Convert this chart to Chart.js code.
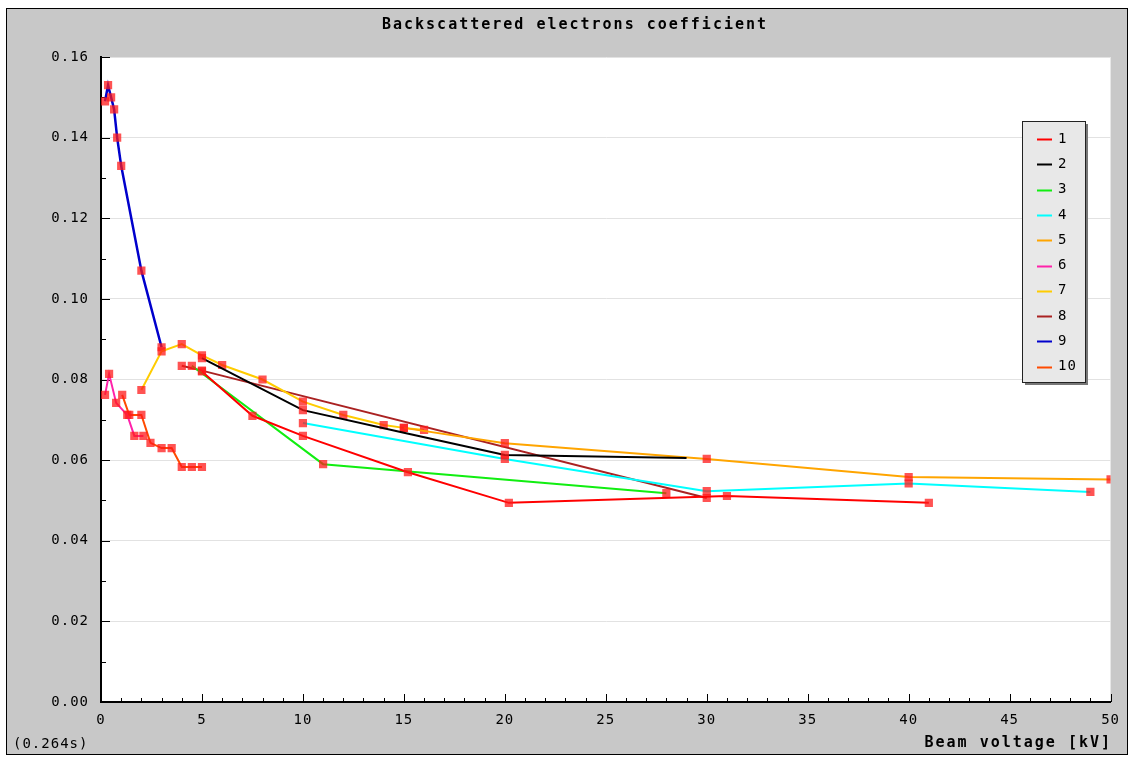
<!DOCTYPE html>
<html>
<head>
<meta charset="utf-8">
<script src="https://cdn.jsdelivr.net/npm/chart.js@4.4.0/dist/chart.umd.min.js"></script>
<style>
  body { margin: 0; background: #fff; }
  canvas { display: block; }
</style>
</head>
<body>
<canvas id="bse" width="1130" height="757"></canvas>
<script>
// ---- data (beam voltage in kV, coefficient) ----
const seriesNames = ['1', '2', '3', '4', '5', '6', '7', '8', '9', '10'];
const seriesColors = ['#ff0000', '#000000', '#11ee11', '#00ffff', '#ffa500',
                      '#ff22aa', '#ffcc00', '#aa2222', '#0000cc', '#ff4a00'];

const kv1 = [5, 7.5, 10, 15.2, 20.2, 31, 41];
const eta1 = [0.082, 0.071, 0.066, 0.057, 0.0494, 0.0511, 0.0494];
const kv2 = [5, 10, 15, 20, 29];
const eta2 = [0.0853, 0.0724, 0.0668, 0.0613, 0.0605];
const kv3 = [4.5, 11, 28];
const eta3 = [0.0834, 0.059, 0.0518];
const kv4 = [10, 20, 30, 40, 49];
const eta4 = [0.0692, 0.0603, 0.0523, 0.0542, 0.0521];
const kv5 = [15, 20, 30, 40, 50];
const eta5 = [0.068, 0.0642, 0.0603, 0.0558, 0.0552];
const kv6 = [0.2, 0.4, 0.75, 1.3, 1.65, 2.1];
const eta6 = [0.0762, 0.0814, 0.0742, 0.0712, 0.066, 0.066];
const kv7 = [2, 3, 4, 5, 6, 8, 10, 12, 14, 15, 16];
const eta7 = [0.0774, 0.087, 0.0888, 0.086, 0.0836, 0.080, 0.0745, 0.0712, 0.0687, 0.068, 0.0675];
const kv8 = [4, 5, 30];
const eta8 = [0.0834, 0.0822, 0.0506];
const kv9 = [0.2, 0.35, 0.5, 0.65, 0.8, 1, 2, 3];
const eta9 = [0.149, 0.153, 0.150, 0.147, 0.140, 0.133, 0.107, 0.088];
const kv10 = [1.05, 1.4, 2, 2.45, 3, 3.5, 4, 4.5, 5];
const eta10 = [0.0762, 0.0712, 0.0712, 0.0643, 0.063, 0.063, 0.0583, 0.0583, 0.0583];

const allKv = [kv1, kv2, kv3, kv4, kv5, kv6, kv7, kv8, kv9, kv10];
const allEta = [eta1, eta2, eta3, eta4, eta5, eta6, eta7, eta8, eta9, eta10];

const xTicks = [0, 5, 10, 15, 20, 25, 30, 35, 40, 45, 50];
const yTicks = [0, 0.02, 0.04, 0.06, 0.08, 0.10, 0.12, 0.14, 0.16];

const MONO = '"DejaVu Sans Mono", "Liberation Mono", monospace';

// background, frame, inward ticks, texts and legend
const framePlugin = {
  id: 'frame',
  beforeLayout(chart) {
    chart.ctx.letterSpacing = '1px';
  },
  beforeDraw(chart) {
    const { ctx, chartArea: a } = chart;
    ctx.save();
    ctx.fillStyle = '#ffffff';
    ctx.fillRect(0, 0, chart.width, chart.height);
    ctx.fillStyle = '#c8c8c8';
    ctx.fillRect(7, 9, 1120, 745);
    ctx.strokeStyle = '#000';
    ctx.lineWidth = 1;
    ctx.strokeRect(6.5, 8.5, 1121, 746);
    ctx.fillStyle = '#ffffff';
    ctx.fillRect(a.left, a.top, a.right - a.left, a.bottom - a.top);
    ctx.restore();
  },
  beforeDatasetsDraw(chart) {
    const { ctx, chartArea: a, scales } = chart;
    ctx.save();
    ctx.strokeStyle = '#000';
    ctx.lineWidth = 1;
    ctx.beginPath();
    for (let i = 0; i <= 16; i++) {
      const y = Math.round(scales.y.getPixelForValue(i / 100)) + 0.5;
      const len = i % 2 === 0 ? 9 : 5;
      ctx.moveTo(a.left, y);
      ctx.lineTo(a.left + len, y);
    }
    for (let k = 0; k <= 50; k++) {
      const x = Math.round(scales.x.getPixelForValue(k)) + 0.5;
      const len = k % 5 === 0 ? 8 : 4;
      ctx.moveTo(x, a.bottom);
      ctx.lineTo(x, a.bottom - len);
    }
    ctx.stroke();
    ctx.restore();
  },
  afterDraw(chart) {
    const { ctx } = chart;
    ctx.save();
    ctx.fillStyle = '#000';
    ctx.textBaseline = 'middle';
    // title
    ctx.font = 'bold 15px ' + MONO;
    ctx.letterSpacing = '2px';
    ctx.textAlign = 'center';
    ctx.fillText('Backscattered electrons coefficient', 575, 25);
    // x axis title
    ctx.textAlign = 'right';
    ctx.fillText('Beam voltage [kV]', 1112, 743);
    // timing note
    ctx.font = '14px ' + MONO;
    ctx.letterSpacing = '1px';
    ctx.textAlign = 'left';
    ctx.fillText('(0.264s)', 13, 744);

    // legend box
    const lx = 1022, ly = 121, lw = 63, lh = 261;
    ctx.fillStyle = '#777';
    ctx.fillRect(lx + 3, ly + 3, lw, lh);
    ctx.fillStyle = '#e8e8e8';
    ctx.fillRect(lx, ly, lw, lh);
    ctx.strokeStyle = '#222';
    ctx.lineWidth = 1;
    ctx.strokeRect(lx + 0.5, ly + 0.5, lw, lh);
    ctx.font = '14px ' + MONO;
    chart.data.datasets.forEach((ds, i) => {
      const y = ly + 18 + i * 25.3;
      ctx.strokeStyle = ds.borderColor;
      ctx.lineWidth = 2;
      ctx.beginPath();
      ctx.moveTo(lx + 15, Math.round(y) + 0.5);
      ctx.lineTo(lx + 30, Math.round(y) + 0.5);
      ctx.stroke();
      ctx.fillStyle = '#000';
      ctx.fillText(ds.label, lx + 36, y);
    });
    ctx.restore();
  }
};

const datasets = seriesNames.map((name, i) => ({
  label: name,
  data: allKv[i].map((x, j) => ({ x: x, y: allEta[i][j] })),
  borderColor: seriesColors[i],
  backgroundColor: seriesColors[i],
  borderWidth: i === 8 ? 2.5 : 2,
  showLine: true,
  tension: 0,
  pointStyle: 'rect',
  pointRadius: i === 1 ? [5.8, 5.8, 0, 5.8, 0] : 5.8,
  pointBorderWidth: 0,
  pointBackgroundColor: 'rgba(255, 25, 25, 0.75)'
}));

new Chart(document.getElementById('bse'), {
  type: 'scatter',
  data: { datasets: datasets },
  plugins: [framePlugin],
  options: {
    responsive: false,
    animation: false,
    layout: { padding: { top: 57, right: 19, bottom: 0, left: 0 } },
    plugins: {
      legend: { display: false },
      title: { display: false },
      tooltip: { enabled: false }
    },
    scales: {
      x: {
        type: 'linear',
        min: 0,
        max: 50,
        afterBuildTicks: (s) => { s.ticks = xTicks.map(v => ({ value: v })); },
        afterFit: (s) => { s.height = 55; },
        grid: { display: false, drawTicks: false },
        border: { display: true, color: '#000', width: 2 },
        ticks: {
          color: '#000',
          padding: 10,
          maxRotation: 0,
          font: { family: MONO, size: 14 },
          callback: (v) => String(v)
        }
      },
      y: {
        type: 'linear',
        min: 0,
        max: 0.16,
        afterBuildTicks: (s) => { s.ticks = yTicks.map(v => ({ value: v })); },
        afterFit: (s) => { s.width = 101; },
        grid: { color: '#e2e2e2', lineWidth: 1, drawTicks: false },
        border: { display: true, color: '#000', width: 2 },
        ticks: {
          color: '#000',
          padding: 12,
          font: { family: MONO, size: 14 },
          callback: (v) => v.toFixed(2)
        }
      }
    }
  }
});
</script>
</body>
</html>
